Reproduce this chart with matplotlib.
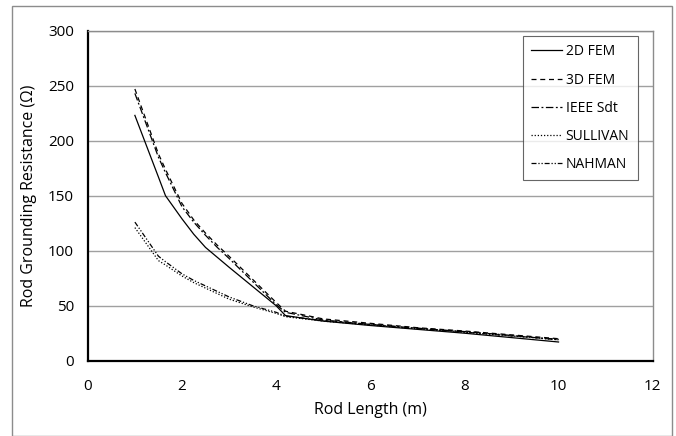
import numpy as np
import matplotlib.pyplot as plt
from matplotlib.patches import Rectangle

plt.rcParams['font.family'] = ['Open Sans', 'DejaVu Sans']

# Rod length (m) and grounding resistance (ohm)
x_vals = [1, 1.5, 1.65, 2, 2.25, 2.5, 2.75, 3, 3.5, 4, 4.2, 5, 6, 7, 8, 9, 10]
fem_2d = [223, 167, 150, 129, 115, 103, 94, 85, 67.5, 50, 41, 36, 32, 28.5, 25, 21, 17]
fem_3d = [247, 188, 174, 143, 128, 116, 105, 95, 74, 53, 45, 38, 34, 30, 27, 23.5, 20]
ieee_std = [243, 185, 171, 140, 126, 114, 103, 93, 72, 51, 44, 37, 33, 29.5, 26.5, 23, 19]
sullivan = [121, 91, 87, 77, 71, 66, 61, 56, 49, 43, 40, 36, 32.5, 29, 26, 22.5, 19]
nahman = [126, 95, 90, 79, 73, 68, 63, 58, 50, 44, 40.5, 36.5, 33, 29.5, 26, 22.5, 19.5]

series = [
    ("2D FEM", fem_2d, "-"),
    ("3D FEM", fem_3d, (0, (4, 3))),
    ("IEEE Sdt", ieee_std, (0, (6, 2, 1.5, 2))),
    ("SULLIVAN", sullivan, (0, (1, 1.5))),
    ("NAHMAN", nahman, (0, (4, 1.5, 1, 1.5, 1, 1.5))),
]

fig = plt.figure(figsize=(6.76, 4.36), dpi=100)
ax = fig.add_axes([0.1299, 0.1727, 0.9655 - 0.1299, 0.9296 - 0.1727])

# outer chart border
fig.patches.append(Rectangle((11.7 / 676, 0.0), (672 - 11.7) / 676, (436 - 5.7) / 436,
                             transform=fig.transFigure, fill=False,
                             edgecolor="#8c8c8c", linewidth=1.0))

for name, vals, ls in series:
    ax.plot(x_vals, vals, color="black", linestyle=ls, linewidth=0.9, label=name)

ax.set_xlim(0, 12)
ax.set_ylim(0, 300)
ax.set_xticks(np.arange(0, 13, 2))
ax.set_yticks(np.arange(0, 301, 50))
ax.yaxis.grid(True, color="#a0a0a0", linewidth=1.0)
ax.set_axisbelow(True)
ax.tick_params(axis="x", length=0, labelsize=11, pad=13)
ax.tick_params(axis="y", length=0, labelsize=11, pad=10)

ax.spines["left"].set_linewidth(1.6)
ax.spines["bottom"].set_linewidth(1.6)
for s in ("top", "right"):
    ax.spines[s].set_color("#8c8c8c")
    ax.spines[s].set_linewidth(1.0)

ax.set_xlabel("Rod Length (m)", fontsize=11.5, labelpad=6)
ax.set_ylabel("Rod Grounding Resistance (\u03a9)", fontsize=11.5, labelpad=8)

leg = ax.legend(loc="upper right", bbox_to_anchor=(637.7 / 676, 1 - 36 / 436),
                bbox_transform=fig.transFigure, fontsize=10, frameon=True,
                fancybox=False, edgecolor="#404040", handlelength=2.2,
                handletextpad=0.3, labelspacing=0.95, borderpad=0.6,
                borderaxespad=0)
leg.get_frame().set_linewidth(0.8)

fig.savefig("out.png", dpi=100)
